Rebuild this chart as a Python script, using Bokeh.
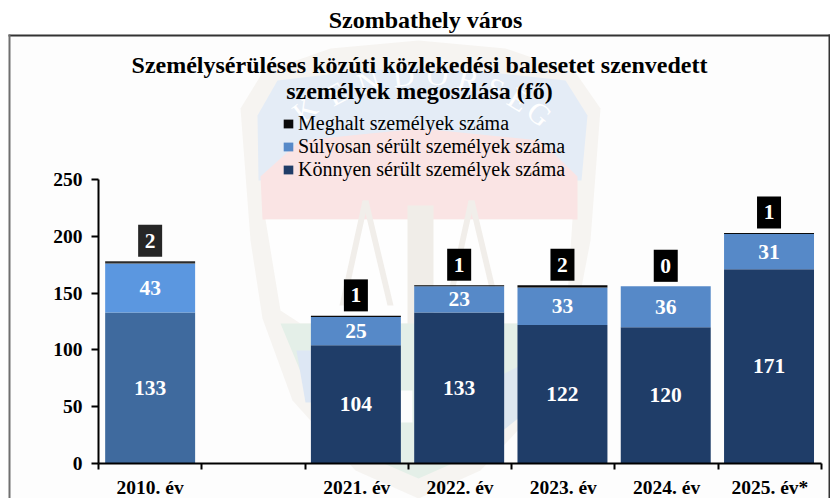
from bokeh.embed import file_html
from bokeh.resources import INLINE
from bokeh.plotting import figure
from bokeh.models import (ColumnDataSource, Range1d, FixedTicker, Legend, LegendItem,
                          Label, PolyAnnotation)
from bokeh.core.properties import value
import math

categories = ["2010. év", " ", "2021. év", "2022. év", "2023. év", "2024. év", "2025. év*"]
light_injured = [133, 0, 104, 133, 122, 120, 171]
severe_injured = [43, 0, 25, 23, 33, 36, 31]
dead = [2, 0, 1, 1, 2, 0, 1]
has_bar = [True, False, True, True, True, True, True]

light_colors = ["#3f6a9e"] + ["#1f3d68"] * 6
severe_colors = ["#5b97e0"] + ["#5689c8"] * 6
dead_colors = ["#2b2b2b"] + ["#0a0a0a"] * 6
box_colors = ["#262626"] + ["#000000"] * 6

SERIF = "Liberation Serif"
L, R, T, B = 98, 821, 179, 463
W, H = 830, 498
YMAX = 250
NC = len(categories)

def dx(px):
    return (px - L) / (R - L) * NC

def dy(py):
    return (B - py) / (B - T) * YMAX

idx = [i for i, b in enumerate(has_bar) if b]
xc = [i + 0.5 - (0.008 if i else 0) for i in idx]
l0 = [0 for _ in idx]
l1 = [light_injured[i] for i in idx]
s1 = [light_injured[i] + severe_injured[i] for i in idx]
d1 = [light_injured[i] + severe_injured[i] + dead[i] for i in idx]

src = ColumnDataSource(dict(
    x=xc, l0=l0, l1=l1, s1=s1, d1=d1,
    lmid=[a / 2 for a in l1],
    smid=[(a + b) / 2 for a, b in zip(l1, s1)],
    box=[t + 18 for t in d1],
    light_c=[light_colors[i] for i in idx],
    severe_c=[severe_colors[i] for i in idx],
    dead_c=[dead_colors[i] for i in idx],
    box_c=[box_colors[i] for i in idx],
    ltxt=[str(light_injured[i]) for i in idx],
    stxt=[str(severe_injured[i]) for i in idx],
    dtxt=[str(dead[i]) for i in idx],
))

p = figure(width=W, height=H, output_backend="svg", toolbar_location=None,
           x_range=Range1d(dx(0), dx(W)), y_range=Range1d(dy(H), dy(0)),
           min_border=0, border_fill_color="#ffffff", background_fill_color="#ffffff",
           outline_line_color=None, tools="")
p.grid.visible = False


def poly(points, fill, alpha=1.0):
    p.add_layout(PolyAnnotation(xs=[dx(a) for a, _ in points], ys=[dy(b) for _, b in points],
                                xs_units="data", ys_units="data", fill_color=fill, fill_alpha=alpha,
                                line_color=None, level="underlay"))


# page background inside the frame
poly([(9, 35), (829, 35), (829, 498), (9, 498)], "#fdfdfd")

# faint emblem watermark
poly([(240, 108), (262, 72), (330, 48), (418, 40), (505, 48), (575, 72), (600, 108), (590, 240),
      (575, 318), (545, 400), (480, 470), (418, 498), (355, 470), (292, 400), (262, 318), (250, 240)], "#f6f4f1")
poly([(257, 115), (277, 80), (345, 72), (418, 66), (490, 72), (565, 80), (587, 115), (581, 180), (258, 180)], "#e4ecf6")
poly([(260, 176), (300, 140), (420, 128), (540, 140), (577, 176), (577, 219), (262, 219)], "#fae4e4")
poly([(265, 219), (572, 219), (566, 310), (545, 323), (300, 323), (280, 310)], "#fefefe")
poly([(407, 205), (433, 205), (433, 330), (407, 330)], "#f0ede8")
poly([(280, 323), (560, 323), (530, 395), (470, 455), (418, 478), (365, 455), (310, 395)], "#e4efe8")
poly([(296, 350), (320, 350), (325, 402), (305, 402)], "#dde7f4")
poly([(460, 395), (540, 355), (540, 400), (490, 440)], "#dde7f0")
poly([(400, 390), (412, 390), (412, 422), (400, 422)], "#fdfdfd")
for pts in ([(362, 200), (368, 200), (345, 305), (339, 305)],
            [(362, 200), (368, 200), (393, 305), (387, 305)],
            [(468, 200), (474, 200), (451, 305), (445, 305)],
            [(468, 200), (474, 200), (499, 305), (493, 305)]):
    poly(pts, "#f1eeea")

# emblem lettering
word = "KENDŐRSÉG"
letter_x = [304, 336, 368, 403, 437, 468, 495, 518, 539]
letter_y = [109, 93, 81, 75, 74, 79, 88, 99, 113]
letter_deg = [38, 28, 18, 7, -5, -15, -24, -32, -40]
for ch, lx, ly, deg in zip(word, letter_x, letter_y, letter_deg):
    p.add_layout(Label(x=dx(lx), y=dy(ly), x_units="data", y_units="data", text=ch, text_font=SERIF,
                       text_font_size="30px", text_color="#ffffff", text_align="center", text_baseline="middle",
                       angle=math.radians(deg), level="underlay"))

# frame
poly([(8, 34), (830, 34), (830, 36), (8, 36)], "#333333")
poly([(8, 34), (10, 34), (10, 498), (8, 498)], "#707070")
poly([(828, 34), (830, 34), (830, 498), (828, 498)], "#333333")

BW = 0.871
r_light = p.vbar(x="x", bottom="l0", top="l1", width=BW, source=src, fill_color="light_c", line_color=None)
r_severe = p.vbar(x="x", bottom="l1", top="s1", width=BW, source=src, fill_color="severe_c", line_color=None)
r_dead = p.vbar(x="x", bottom="s1", top="d1", width=BW, source=src, fill_color="dead_c", line_color=None)

for col, y in (("ltxt", "lmid"), ("stxt", "smid"), ("dtxt", "box")):
    if col == "dtxt":
        p.rect(x="x", y="box", width=24, height=32, width_units="screen", height_units="screen",
               source=src, fill_color="box_c", line_color=None)
    p.text(x="x", y=y, text=col, source=src, text_color="#ffffff", text_font=value(SERIF),
           text_font_style="bold", text_font_size="21.5px", text_align="center", text_baseline="middle")

ax = p.xaxis[0]
ax.fixed_location = 0
ax.bounds = (0, NC)
ax.ticker = FixedTicker(ticks=[i + 0.5 for i in range(NC)], minor_ticks=list(range(NC + 1)))
ax.major_label_overrides = {i + 0.5: c for i, c in enumerate(categories)}
ax.major_tick_line_color = None
ax.major_tick_in = 0
ax.major_tick_out = 0
ax.minor_tick_in = 0
ax.minor_tick_out = 6
ax.minor_tick_line_width = 2
ax.minor_tick_line_color = "#000000"
ax.axis_line_width = 2
ax.axis_line_color = "#000000"
ax.major_label_standoff = 7
ax.major_label_text_font = SERIF
ax.major_label_text_font_style = "bold"
ax.major_label_text_font_size = "19.5px"
ax.major_label_text_color = "#000000"

ay = p.yaxis[0]
ay.fixed_location = 0
ay.bounds = (0, YMAX)
ay.ticker = FixedTicker(ticks=[0, 50, 100, 150, 200, 250])
ay.minor_tick_line_color = None
ay.major_tick_in = 0
ay.major_tick_out = 7
ay.major_tick_line_width = 2
ay.major_tick_line_color = "#000000"
ay.axis_line_width = 2
ay.axis_line_color = "#000000"
ay.major_label_standoff = 9
ay.major_label_text_font = SERIF
ay.major_label_text_font_style = "bold"
ay.major_label_text_font_size = "19.5px"
ay.major_label_text_color = "#000000"

legend = Legend(items=[
    LegendItem(label="Meghalt személyek száma", renderers=[r_dead], index=1),
    LegendItem(label="Súlyosan sérült személyek száma", renderers=[r_severe], index=1),
    LegendItem(label="Könnyen sérült személyek száma", renderers=[r_light], index=1),
], location=(282, H - 181), orientation="vertical", background_fill_alpha=0, border_line_color=None,
    padding=0, margin=0, spacing=0, glyph_width=12, glyph_height=11, label_standoff=4, label_height=23,
    label_text_font=SERIF, label_text_font_size="20px", label_text_color="#000000", click_policy="none")
p.add_layout(legend, "center")

for txt, cx, cy, size in (("Szombathely város", 425, 19.5, "24px"),
                          ("Személysérüléses közúti közlekedési balesetet szenvedett", 419, 64, "24px"),
                          ("személyek megoszlása (fő)", 419, 90, "24px")):
    p.add_layout(Label(x=dx(cx), y=dy(cy), x_units="data", y_units="data", text=txt, text_font=SERIF,
                       text_font_style="bold", text_font_size=size, text_align="center",
                       text_baseline="middle", text_color="#000000"))

open("out.html", "w").write(file_html(p, INLINE))
